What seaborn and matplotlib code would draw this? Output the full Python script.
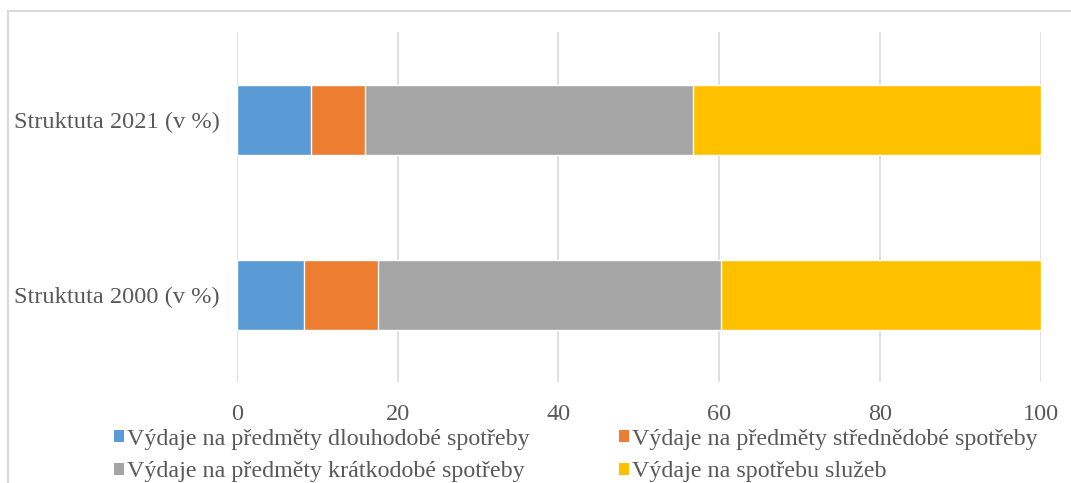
import pandas as pd
import seaborn as sns
import matplotlib.pyplot as plt
from matplotlib.patches import Patch, Rectangle

# Data
categories = ['Struktuta 2021 (v %)', 'Struktuta 2000 (v %)']
series_names = ['Výdaje na předměty dlouhodobé spotřeby',
                'Výdaje na předměty střednědobé spotřeby',
                'Výdaje na předměty krátkodobé spotřeby',
                'Výdaje na spotřebu služeb']
dlouhodobe = [9.25, 8.4]
strednedobe = [6.7, 9.15]
kratkodobe = [40.85, 42.65]
sluzby = [43.2, 39.8]
x_ticks = [0, 20, 40, 60, 80, 100]

colors = ['#5B9BD5', '#ED7D31', '#A5A5A5', '#FFC000']
text_color = '#595959'

sns.set_style('white')
plt.rcParams['font.family'] = ['Liberation Serif', 'DejaVu Serif']

df = pd.DataFrame({'cat': categories, series_names[0]: dlouhodobe, series_names[1]: strednedobe,
                   series_names[2]: kratkodobe, series_names[3]: sluzby})
# cumulative sums so the stacked bars can be layered
cum = df[series_names].cumsum(axis=1)

W, H = 1071, 483
fig = plt.figure(figsize=(W / 100, H / 100), dpi=100)
ax = fig.add_axes([237 / W, 1 - 382 / H, (1040.5 - 237) / W, (382 - 32) / H])

for name, c in reversed(list(zip(series_names, colors))):
    sns.barplot(x=cum[name], y=df['cat'], order=categories, color=c, orient='h',
                width=0.4, ax=ax, zorder=3, saturation=1)

ax.set_xlim(0, 100)
ax.set_ylim(1.5, -0.5)
ax.set_xticks(x_ticks)
ax.xaxis.grid(True, color='#d9d9d9', lw=1.2, zorder=0)
ax.yaxis.grid(False)
for s in ax.spines.values():
    s.set_visible(False)
ax.set_xlabel('')
ax.set_ylabel('')
ax.tick_params(axis='x', length=0, pad=16, labelsize=17.5, labelcolor=text_color)
ax.tick_params(axis='y', length=0, pad=12.5, labelsize=17.6, labelcolor=text_color)

# matplotlib fills legend columns first; reorder so rows read like the reference
order = [0, 2, 1, 3]
handles = [Patch(facecolor=colors[i], edgecolor='none') for i in order]
labels = [series_names[i] for i in order]
fig.legend(handles, labels, loc='upper left', bbox_to_anchor=(102 / W, 1 - 417 / H),
           ncol=2, frameon=False, fontsize=17.3, labelcolor=text_color,
           handlelength=0.4, handleheight=0.4, handletextpad=0.12,
           labelspacing=0.47, columnspacing=3.75, borderpad=0)

# light chart-area border (cut off at the right and bottom in the reference)
fig.add_artist(Rectangle((8 / W, -0.2), 1.2, 1 - 11 / H + 0.2, transform=fig.transFigure,
                         fill=False, edgecolor='#d9d9d9', lw=1.5))

fig.savefig('out.png', dpi=100)
